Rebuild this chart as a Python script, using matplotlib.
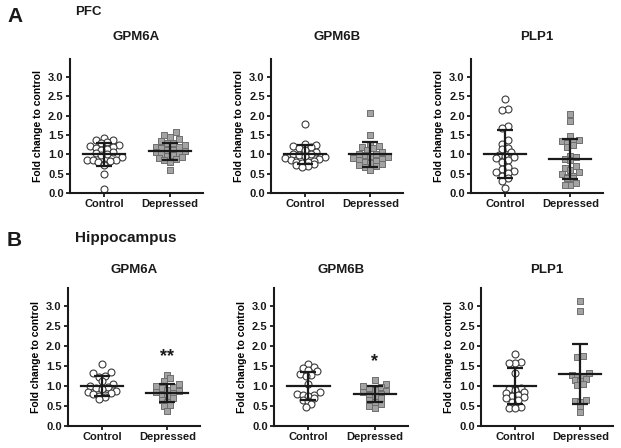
import numpy as np
import matplotlib.pyplot as plt

plt.rcParams['font.family'] = ['Liberation Sans', 'DejaVu Sans']
plt.rcParams['font.weight'] = 'bold'
plt.rcParams['axes.labelweight'] = 'bold'

W, H = 621, 448

groups = ['Control', 'Depressed']
genes = ['GPM6A', 'GPM6B', 'PLP1']

# PFC fold changes
pfc_gpm6a_ctrl = [1.43, 1.38, 1.36, 1.32, 1.28, 1.25, 1.22, 1.18, 1.15, 1.13, 1.10, 1.06,
                  1.03, 1.00, 0.97, 0.92, 0.86, 0.85, 0.84, 0.82, 0.80, 0.76, 0.72, 0.48, 0.10]
pfc_gpm6a_dep = [1.58, 1.50, 1.45, 1.40, 1.35, 1.30, 1.28, 1.25, 1.20, 1.18, 1.15, 1.12, 1.10,
                 1.08, 1.05, 1.02, 1.00, 0.98, 0.95, 0.92, 0.90, 0.88, 0.85, 0.80, 0.60]
pfc_gpm6b_ctrl = [1.78, 1.27, 1.25, 1.22, 1.20, 1.15, 1.10, 1.05, 1.02, 1.00, 0.98, 0.95,
                  0.92, 0.90, 0.88, 0.85, 0.82, 0.80, 0.80, 0.78, 0.75, 0.72, 0.70, 0.68]
pfc_gpm6b_dep = [2.08, 1.50, 1.27, 1.22, 1.20, 1.15, 1.10, 1.05, 1.02, 1.00, 0.98, 0.95,
                 0.92, 0.90, 0.88, 0.85, 0.82, 0.80, 0.78, 0.75, 0.72, 0.70, 0.68, 0.60]
pfc_plp1_ctrl = [2.43, 2.16, 2.14, 1.73, 1.68, 1.38, 1.26, 1.15, 1.14, 1.05, 0.98, 0.95, 0.92,
                 0.90, 0.85, 0.80, 0.68, 0.62, 0.58, 0.55, 0.52, 0.45, 0.38, 0.32, 0.14]
pfc_plp1_dep = [2.03, 1.86, 1.47, 1.38, 1.35, 1.32, 1.28, 1.24, 1.20, 0.95, 0.92, 0.88, 0.85,
                0.70, 0.65, 0.60, 0.55, 0.50, 0.45, 0.42, 0.40, 0.38, 0.25, 0.20, 0.20]

# Hippocampus fold changes
hip_gpm6a_ctrl = [1.55, 1.35, 1.32, 1.25, 1.22, 1.12, 1.05, 1.00, 0.98, 0.95, 0.92, 0.88,
                  0.85, 0.82, 0.80, 0.78, 0.75, 0.72, 0.68]
hip_gpm6a_dep = [1.28, 1.20, 1.12, 1.05, 1.00, 0.98, 0.95, 0.90, 0.88, 0.85, 0.82, 0.78,
                 0.75, 0.70, 0.65, 0.60, 0.52, 0.50, 0.38]
hip_gpm6b_ctrl = [1.55, 1.47, 1.45, 1.40, 1.38, 1.30, 1.28, 1.25, 1.05, 0.85, 0.80, 0.78,
                  0.77, 0.75, 0.70, 0.65, 0.62, 0.55, 0.48]
hip_gpm6b_dep = [1.15, 1.05, 1.00, 0.98, 0.95, 0.90, 0.88, 0.85, 0.80, 0.78, 0.75, 0.70,
                 0.65, 0.60, 0.55, 0.50, 0.45]
hip_plp1_ctrl = [1.80, 1.60, 1.58, 1.58, 1.32, 0.95, 0.92, 0.90, 0.85, 0.82, 0.78, 0.75,
                 0.72, 0.70, 0.65, 0.60, 0.48, 0.46, 0.45]
hip_plp1_dep = [3.12, 2.88, 1.74, 1.72, 1.32, 1.28, 1.25, 1.22, 1.18, 1.15, 1.12, 1.05,
                1.02, 0.66, 0.62, 0.60, 0.50, 0.35]

pfc_means = [[1.00, 1.08], [1.00, 1.00], [1.00, 0.88]]
pfc_sds = [[0.29, 0.22], [0.24, 0.33], [0.62, 0.52]]
hip_means = [[1.00, 0.83], [1.00, 0.80], [1.00, 1.30]]
hip_sds = [[0.24, 0.23], [0.35, 0.21], [0.45, 0.75]]
hip_stars = ['**', '*', '']

pfc_data = [(pfc_gpm6a_ctrl, pfc_gpm6a_dep), (pfc_gpm6b_ctrl, pfc_gpm6b_dep),
            (pfc_plp1_ctrl, pfc_plp1_dep)]
hip_data = [(hip_gpm6a_ctrl, hip_gpm6a_dep), (hip_gpm6b_ctrl, hip_gpm6b_dep),
            (hip_plp1_ctrl, hip_plp1_dep)]


def scatter_offsets(vals, row_px, gap_px, sx, sy):
    # column-scatter style: values in the same row are laid side by side
    vals = np.asarray(vals)
    rows = np.round(vals * sy / row_px).astype(int)
    out = np.zeros(len(vals))
    for r in np.unique(rows):
        idx = np.where(rows == r)[0]
        idx = idx[np.argsort(vals[idx])]
        n = len(idx)
        pos = (np.arange(n) - (n - 1) / 2) * gap_px
        order = np.argsort(np.abs(pos) + 0.01 * np.arange(n))
        for k, j in enumerate(idx):
            out[j] = pos[order[k]] / sx
    return out


def rect(x0, x1, ytop, ybot):
    return [x0 / W, 1 - ybot / H, (x1 - x0) / W, (ybot - ytop) / H]


fig = plt.figure(figsize=(W / 100, H / 100), dpi=100)

top_rects = [rect(70, 203, 59.5, 193), rect(271, 403, 59.5, 193), rect(471, 603, 59.5, 193)]
bot_rects = [rect(68, 200, 288, 426), rect(274, 408, 288, 426), rect(481, 613, 288, 426)]

ink = '#1a1a1a'


def draw(ax, data, means, sds, star, sy, title, title_gap):
    for g, vals in enumerate(data):
        offs = scatter_offsets(vals, 6.5, 5.8, 66, sy)
        if g == 0:
            ax.scatter(g + offs, vals, s=25, marker='o', facecolor='white',
                       edgecolor='#3a3a3a', linewidth=0.8, zorder=2)
        else:
            ax.scatter(g + offs, vals, s=25, marker='s', facecolor='#a3a3a3',
                       edgecolor='#6e6e6e', linewidth=0.7, zorder=2)
        m, sd = means[g], sds[g]
        ax.plot([g - 0.32, g + 0.32], [m, m], color=ink, lw=1.6, zorder=3)
        ax.errorbar([g], [m], yerr=[sd], fmt='none', ecolor=ink, elinewidth=1.6,
                    capsize=6, capthick=1.6, zorder=3)
    if star:
        ax.text(1, max(data[1]) + 0.45, star, ha='center', va='center',
                fontsize=13, color=ink)
    ax.set_xlim(-0.52, 1.5)
    ax.set_ylim(0, 3.45)
    ax.set_xticks([0, 1])
    ax.set_xticklabels(groups, fontsize=8)
    ax.set_yticks(np.arange(0, 3.01, 0.5))
    ax.set_yticklabels(['%.1f' % v for v in np.arange(0, 3.01, 0.5)], fontsize=8)
    ax.set_ylabel('Fold change to control', fontsize=7.5, labelpad=4)
    for s in ['top', 'right']:
        ax.spines[s].set_visible(False)
    for s in ['left', 'bottom']:
        ax.spines[s].set_linewidth(1.5)
        ax.spines[s].set_color(ink)
    ax.tick_params(length=3, width=1.3, color=ink, pad=1.5, labelcolor=ink)
    ax.text(0.5, 1 + title_gap, title, transform=ax.transAxes, ha='center',
            va='center', fontsize=9.5, color=ink)


for i in range(3):
    ax = fig.add_axes(top_rects[i])
    draw(ax, pfc_data[i], pfc_means[i], pfc_sds[i], '', 38.7, genes[i], 22 / 133.5)
    ax = fig.add_axes(bot_rects[i])
    draw(ax, hip_data[i], hip_means[i], hip_sds[i], hip_stars[i], 40, genes[i], 18 / 138)

fig.text(7 / W, 1 - 17 / H, 'A', fontsize=15, va='center', ha='left', color=ink)
fig.text(75 / W, 1 - 12 / H, 'PFC', fontsize=9.5, va='center', ha='left', color=ink)
fig.text(7 / W, 1 - 240 / H, 'B', fontsize=15, va='center', ha='left', color=ink)
fig.text(75 / W, 1 - 238 / H, 'Hippocampus', fontsize=11, va='center', ha='left', color=ink)

fig.savefig('out.png', dpi=100)
